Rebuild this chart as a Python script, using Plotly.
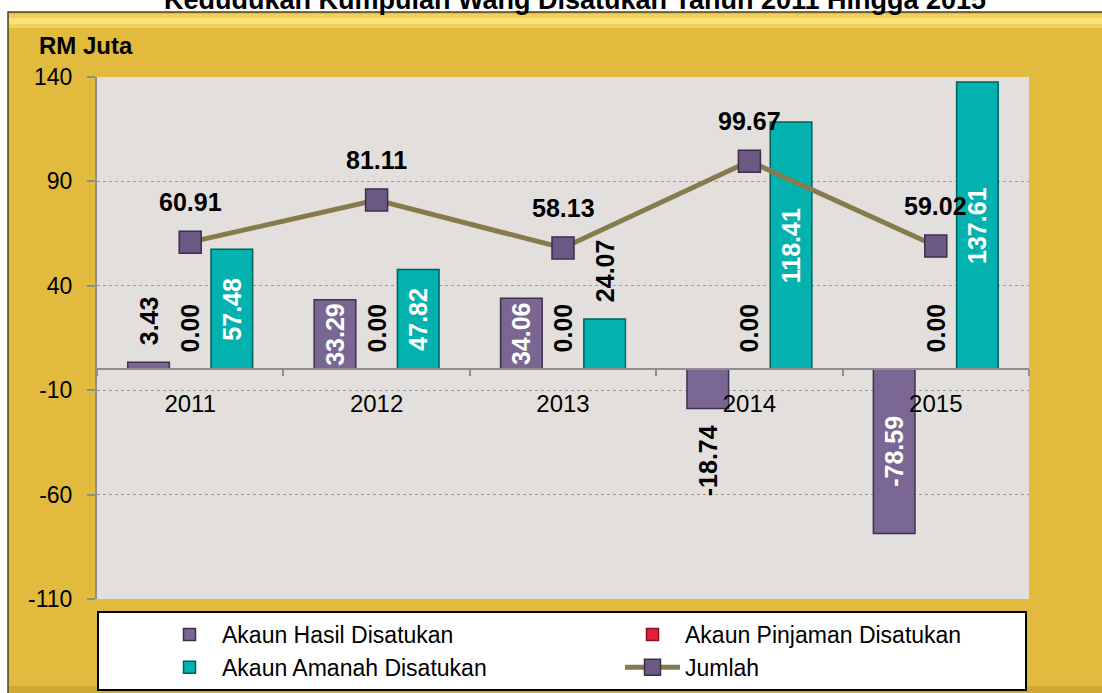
import plotly.graph_objects as go

# ---------------- data ----------------
years = ["2011", "2012", "2013", "2014", "2015"]
hasil = [3.43, 33.29, 34.06, -18.74, -78.59]
pinjaman = [0.00, 0.00, 0.00, 0.00, 0.00]
amanah = [57.48, 47.82, 24.07, 118.41, 137.61]
jumlah = [60.91, 81.11, 58.13, 99.67, 59.02]

hasil_pos = ["outside", "inside", "inside", "outside", "inside"]
pinjaman_pos = ["outside", "outside", "outside", "outside", "outside"]
amanah_pos = ["inside", "inside", "outside", "inside", "inside"]

yticks = [-110, -60, -10, 40, 90, 140]

title_text = "Kedudukan Kumpulan Wang Disatukan Tahun 2011 Hingga 2015"
unit_text = "RM Juta"

# ---------------- style ----------------
FONT = "Liberation Sans, Arial, sans-serif"
W, H = 1102, 693
ML, MR, MT, MB = 97, 73, 77, 94
PW, PH = W - ML - MR, H - MT - MB

GOLD = "#E2BA3E"
PLOTBG = "#E3DFDC"
HASIL_C = "#7A6693"
HASIL_E = "#3E3150"
AMANAH_C = "#03B2AE"
AMANAH_E = "#00615E"
PINJ_C = "#E5223A"
PINJ_E = "#8A1020"
LINE_C = "#857C4E"
MARK_C = "#6B5883"
AXIS_C = "#8E8E8E"


def px_x(px):
    return (px - ML) / PW


def px_y(py):
    return (H - MB - py) / PH


NB = "\u00a0\u00a0"


def labels(vals, pos):
    out = []
    for v, p in zip(vals, pos):
        s = f"{v:.2f}"
        if p == "outside":
            s = NB + s if v >= 0 else s + NB
        out.append(s)
    return out


lab_font_in = dict(family=FONT, size=25, color="white", weight="bold")
lab_font_out = dict(family=FONT, size=25, color="black", weight="bold")

fig = go.Figure()


def add_bar(vals, pos, name, col, edge):
    fig.add_trace(go.Bar(
        x=years, y=vals, name=name,
        marker=dict(color=col, line=dict(color=edge, width=1.5)),
        text=labels(vals, pos), textposition=pos, textangle=-90,
        insidetextanchor="middle", constraintext="none",
        insidetextfont=lab_font_in, outsidetextfont=lab_font_out,
        cliponaxis=False, hoverinfo="skip",
    ))


add_bar(hasil, hasil_pos, "Akaun Hasil Disatukan", HASIL_C, HASIL_E)
add_bar(pinjaman, pinjaman_pos, "Akaun Pinjaman Disatukan", PINJ_C, PINJ_E)
add_bar(amanah, amanah_pos, "Akaun Amanah Disatukan", AMANAH_C, AMANAH_E)

fig.add_trace(go.Scatter(
    x=years, y=jumlah, name="Jumlah", mode="lines+markers",
    line=dict(color=LINE_C, width=5),
    marker=dict(symbol="square", size=22, color=MARK_C,
                line=dict(color="#3B2F4A", width=1.5)),
    cliponaxis=False, hoverinfo="skip",
))

annotations = []
for i, v in enumerate(jumlah):
    # category index i on the category x axis
    annotations.append(dict(
        x=i, y=v, xref="x", yref="y", text=f"{v:.2f}", showarrow=False,
        yanchor="bottom", yshift=24,
        font=dict(family=FONT, size=25, color="black", weight="bold"),
    ))

annotations.append(dict(
    x=px_x(37), y=px_y(46), xref="paper", yref="paper", text=unit_text,
    showarrow=False, xanchor="left", yanchor="middle",
    font=dict(family=FONT, size=24, color="black", weight="bold"),
))

shapes = [
    # gold frame
    dict(type="rect", xref="paper", yref="paper", layer="below",
         x0=px_x(8), x1=px_x(1120), y0=px_y(720), y1=px_y(12),
         fillcolor=GOLD, line=dict(color="#4A4030", width=1.5)),
    # top highlight band
    dict(type="rect", xref="paper", yref="paper", layer="below",
         x0=px_x(9), x1=px_x(1120), y0=px_y(28), y1=px_y(14),
         fillcolor="#F1D158", line=dict(width=0)),
    dict(type="rect", xref="paper", yref="paper", layer="below",
         x0=px_x(9), x1=px_x(1120), y0=px_y(24), y1=px_y(18),
         fillcolor="#F9E27A", line=dict(width=0)),
    # bottom darker band
    dict(type="rect", xref="paper", yref="paper", layer="below",
         x0=px_x(9), x1=px_x(1120), y0=px_y(700), y1=px_y(686),
         fillcolor="#CFA935", line=dict(width=0)),
    # plot background
    dict(type="rect", xref="paper", yref="paper", layer="below",
         x0=0, x1=1, y0=0, y1=1, fillcolor=PLOTBG, line=dict(width=0)),
]

fig.update_layout(
    width=W, height=H,
    margin=dict(l=ML, r=MR, t=MT, b=MB, autoexpand=False),
    paper_bgcolor="white", plot_bgcolor="rgba(0,0,0,0)",
    font=dict(family=FONT, color="black"),
    title=dict(text=title_text, x=575 / W, xanchor="center",
               y=1.0, yref="container", yanchor="middle",
               font=dict(family=FONT, size=27, color="black", weight="bold")),
    barmode="group", bargap=0.33, bargroupgap=0,
    showlegend=True,
    legend=dict(orientation="h", x=0, y=px_y(611),
                xanchor="left", yanchor="top",
                bgcolor="white", bordercolor="black", borderwidth=2,
                font=dict(family=FONT, size=23, color="black"),
                entrywidth=335, entrywidthmode="pixels",
                itemwidth=55, indentation=58, traceorder="normal"),
    xaxis=dict(type="category", anchor="free", position=0.44,
               range=[-0.5, 4.5], automargin=False,
               showline=True, linecolor=AXIS_C, linewidth=2,
               ticks="outside", ticklen=6, tickcolor=AXIS_C, tickwidth=2,
               tickson="boundaries", showgrid=False, zeroline=False,
               tickfont=dict(family=FONT, size=24, color="black"),
               ticklabelstandoff=13),
    yaxis=dict(range=[-110, 140], tickvals=yticks,
               ticktext=[str(v) for v in yticks], automargin=False,
               showline=True, linecolor=AXIS_C, linewidth=2,
               ticks="outside", ticklen=8, tickcolor=AXIS_C, tickwidth=2,
               showgrid=True, gridcolor="#9A9A9A", griddash="dot", gridwidth=1,
               zeroline=False,
               tickfont=dict(family=FONT, size=23, color="black"),
               ticklabelstandoff=10),
    shapes=shapes,
    annotations=annotations,
)

# remove the browser's default 8px page margin so the figure sits at (0, 0)
fig.write_html("out.html",
               config={"displayModeBar": False},
               post_script="document.body.style.margin='0';"
                           "document.body.style.overflow='hidden';")
